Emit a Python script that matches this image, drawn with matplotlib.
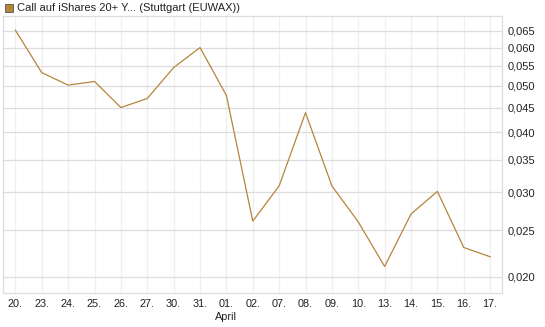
import matplotlib
matplotlib.use("Agg")
import matplotlib.pyplot as plt
from matplotlib.ticker import FixedLocator, NullLocator
from matplotlib.patches import Rectangle

dates = ["20.", "23.", "24.", "25.", "26.", "27.", "30.", "31.", "01.", "02.",
         "07.", "08.", "09.", "10.", "13.", "14.", "15.", "16.", "17."]
values = [0.0652, 0.0532, 0.0501, 0.0510, 0.0450, 0.0470, 0.0545, 0.0600, 0.0477, 0.0261,
          0.0309, 0.0439, 0.0309, 0.0260, 0.0210, 0.0270, 0.0301, 0.0230, 0.0220]
yticks = [0.020, 0.025, 0.030, 0.035, 0.040, 0.045, 0.050, 0.055, 0.060, 0.065]
ytick_labels = ["0,020", "0,025", "0,030", "0,035", "0,040", "0,045", "0,050", "0,055", "0,060", "0,065"]
title = "Call auf iShares 20+ Y... (Stuttgart (EUWAX))"
month_label = "April"

plt.rcParams['font.family'] = ['Liberation Sans', 'DejaVu Sans']
W, H = 545, 327
fig = plt.figure(figsize=(W / 100, H / 100), dpi=100)
ax = fig.add_axes([3 / W, (H - 293) / H, (502 - 3) / W, (293 - 16) / H])

line_color = "#b5853a"
x = list(range(len(dates)))
ax.plot(x, values, color=line_color, lw=0.9)

ax.set_yscale("log")
ax.set_ylim(0.01849, 0.0698)
ax.set_xlim(-0.47, 18.45)
ax.yaxis.set_major_locator(FixedLocator(yticks))
ax.yaxis.set_minor_locator(NullLocator())
ax.set_yticklabels(ytick_labels)
ax.set_xticks(x)
ax.set_xticklabels(dates)
ax.yaxis.tick_right()
ax.tick_params(axis="y", length=0, pad=4, labelsize=8, colors="#222222")
ax.tick_params(axis="x", length=0, pad=4, labelsize=7.8, colors="#222222")
ax.grid(axis="y", color="#dddddd", lw=0.9)
ax.grid(axis="x", color="#efefef", lw=0.9)
ax.set_axisbelow(True)
for s in ax.spines.values():
    s.set_color("#dddddd")
    s.set_linewidth(0.9)

ax.text(8, -0.085, month_label, transform=ax.get_xaxis_transform(),
        ha="center", va="center", fontsize=7.8, color="#222222")

fig.patches.append(Rectangle((5 / W, (H - 12) / H), 8 / W, 8 / H, transform=fig.transFigure,
                             facecolor=line_color, edgecolor="#555555", lw=0.6))
fig.text(17 / W, (H - 8) / H, title, ha="left", va="center", fontsize=8, color="#222222")

fig.savefig("out.png", dpi=100)
